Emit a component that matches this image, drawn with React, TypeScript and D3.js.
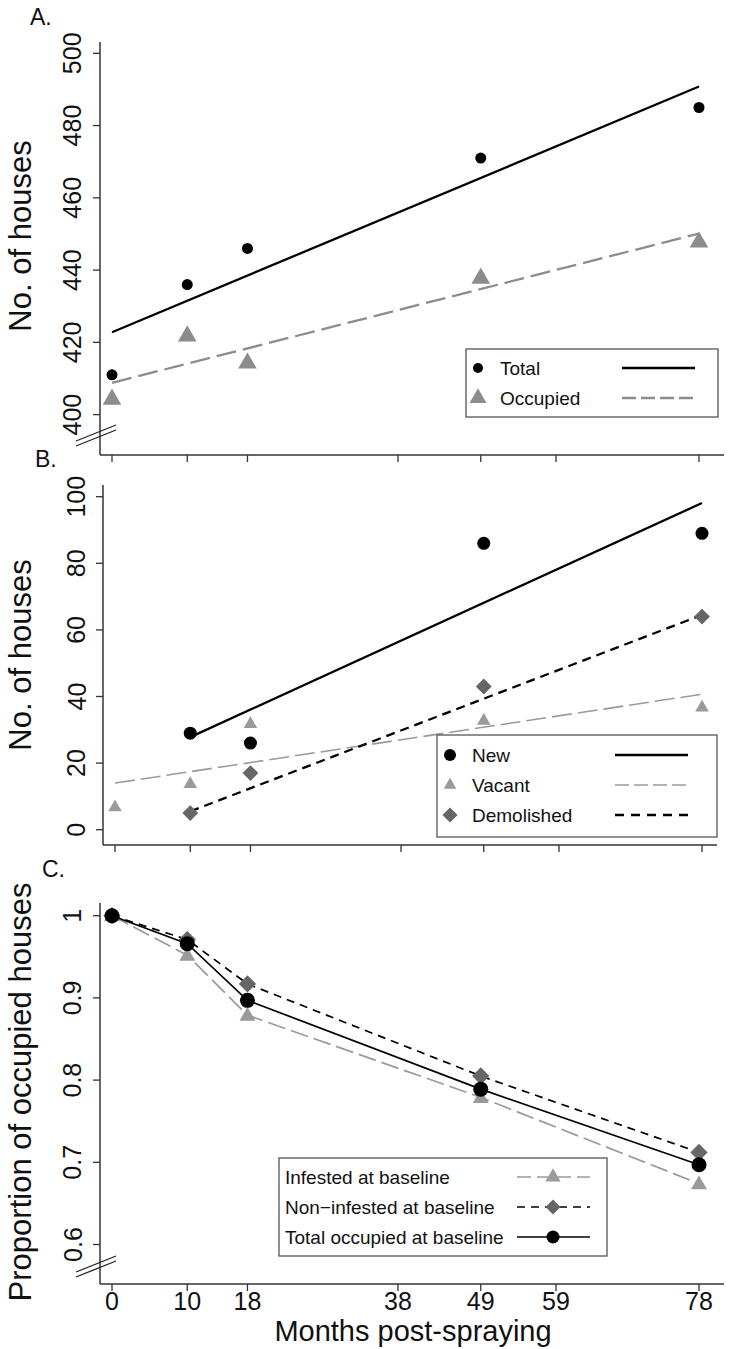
import React from 'react';
import * as d3 from 'd3';

// ---------- data ----------
const months = [0, 10, 18, 49, 78];
const tickMonths = [0, 10, 18, 38, 49, 59, 78];

// Panel A
const totalA = [411, 436, 446, 471, 485];
const occupiedA = [404.5, 422, 414.5, 438, 448];
const fitMonthsA = [0, 78];
const totalFitA = [422.8, 490.8];
const occupiedFitA = [408.8, 450.1];
const ticksA = [400, 420, 440, 460, 480, 500];

// Panel B
const monthsB = [10, 18, 49, 78];
const newB = [29, 26, 86, 89];
const vacantB = [7, 14, 32, 33, 37];
const demolishedB = [5, 17, 43, 64];
const newFitMonths = [10, 78];
const newFitB = [27.8, 98.1];
const vacantFitMonths = [0, 78];
const vacantFitB = [14, 40.7];
const demolishedFitMonths = [10, 78];
const demolishedFitB = [5.5, 64.5];
const ticksB = [0, 20, 40, 60, 80, 100];

// Panel C
const infestedC = [1, 0.952, 0.879, 0.779, 0.674];
const nonInfestedC = [1, 0.971, 0.917, 0.805, 0.712];
const totalC = [1, 0.966, 0.897, 0.789, 0.697];
const ticksC = [0.6, 0.7, 0.8, 0.9, 1];

const legendA = ['Total', 'Occupied'];
const legendB = ['New', 'Vacant', 'Demolished'];
const legendC = ['Infested at baseline', 'Non\u2212infested at baseline', 'Total occupied at baseline'];

// ---------- styles ----------
const FONT = '"Liberation Sans", Arial, Helvetica, sans-serif';
const AX = '#333';
const GREY_TRI = '#8c8c8c';
const GREY_LIGHT = '#9a9a9a';
const DIAMOND = '#666';

const tri = (size: number) => d3.symbol().type(d3.symbolTriangle).size(size)() as string;
const sq = (size: number) => d3.symbol().type(d3.symbolSquare).size(size)() as string;

function Diamond({ x, y, size, fill }: { x: number; y: number; size: number; fill: string }) {
  return <path d={sq(size)} transform={`translate(${x},${y}) rotate(45)`} fill={fill} />;
}
function Tri({ x, y, size, fill }: { x: number; y: number; size: number; fill: string }) {
  return <path d={tri(size)} transform={`translate(${x},${y + 1})`} fill={fill} />;
}

function YAxis({ x, y0, y1, scale, ticks, labelX, fontSize }: any) {
  const fmt = d3.format('~g');
  return (
    <g>
      <line x1={x} x2={x} y1={y0} y2={y1} stroke={AX} strokeWidth={1.5} />
      {ticks.map((t: number) => (
        <g key={t}>
          <line x1={x - 7} x2={x} y1={scale(t)} y2={scale(t)} stroke={AX} strokeWidth={1.3} />
          <text
            x={labelX}
            y={scale(t)}
            transform={`rotate(-90,${labelX},${scale(t)})`}
            textAnchor="middle"
            fontSize={fontSize}
            fontFamily={FONT}
            fill="#111"
          >
            {fmt(t)}
          </text>
        </g>
      ))}
    </g>
  );
}

function XAxis({ y, x0, x1, scale }: any) {
  return (
    <g>
      <line x1={x0} x2={x1} y1={y} y2={y} stroke={AX} strokeWidth={1.5} />
      {tickMonths.map((t) => (
        <line key={t} x1={scale(t)} x2={scale(t)} y1={y} y2={y + 7} stroke={AX} strokeWidth={1.3} />
      ))}
    </g>
  );
}

function Break({ x, y }: { x: number; y: number }) {
  return (
    <g stroke="#222" strokeWidth={1.3}>
      <line x1={x - 24} y1={y + 9} x2={x + 16} y2={y - 7} />
      <line x1={x - 24} y1={y + 4} x2={x + 16} y2={y - 12} />
    </g>
  );
}

function YTitle({ x, cy, text }: { x: number; cy: number; text: string }) {
  return (
    <text
      x={x}
      y={cy}
      transform={`rotate(-90,${x},${cy})`}
      textAnchor="middle"
      fontSize={31}
      fontFamily={FONT}
      fill="#111"
    >
      {text}
    </text>
  );
}

export default function App() {
  // scales
  const xA = d3.scaleLinear().domain([0, 78]).range([112, 699]);
  const yA = d3.scaleLinear().domain([400, 500]).range([414.6, 53.3]);
  const xB = d3.scaleLinear().domain([0, 78]).range([115, 702]);
  const yB = d3.scaleLinear().domain([0, 100]).range([829.7, 496.7]);
  const xC = d3.scaleLinear().domain([0, 78]).range([112, 699]);
  const yC = d3.scaleLinear().domain([0.6, 1]).range([1244.5, 915.7]);

  const lineGen = (xs: d3.ScaleLinear<number, number>, ys: d3.ScaleLinear<number, number>, mx: number[], vals: number[]) =>
    d3
      .line<number>()
      .x((_, i) => xs(mx[i]))
      .y((d) => ys(d))(vals) as string;

  const fmtT = d3.format('d');

  return (
    <svg width={733} height={1349} style={{ display: 'block', position: 'absolute', left: 0, top: 0, background: '#fff' }}>
      <rect x={0} y={0} width={733} height={1349} fill="#fff" />

      {/* ================= Panel A ================= */}
      <text x={30} y={25} fontSize={23} fontFamily={FONT} fill="#111">A.</text>
      <YTitle x={31} cy={236} text="No. of houses" />
      <YAxis x={100} y0={42} y1={455} scale={yA} ticks={ticksA} labelX={81.5} fontSize={25} />
      <Break x={100} y={437} />
      <XAxis y={455} x0={100} x1={724} scale={xA} />

      <path d={lineGen(xA, yA, fitMonthsA, totalFitA)} fill="none" stroke="#000" strokeWidth={2.3} />
      <path d={lineGen(xA, yA, fitMonthsA, occupiedFitA)} fill="none" stroke={GREY_TRI} strokeWidth={2.3} strokeDasharray="20,7" />
      {months.map((m, i) => (
        <circle key={'ta' + m} cx={xA(m)} cy={yA(totalA[i])} r={5.5} fill="#000" />
      ))}
      {months.map((m, i) => (
        <Tri key={'oa' + m} x={xA(m)} y={yA(occupiedA[i])} size={150} fill={GREY_TRI} />
      ))}

      <rect x={466} y={349} width={252} height={68} fill="#fff" stroke="#555" strokeWidth={1.3} />
      <circle cx={478} cy={368} r={5} fill="#000" />
      <text x={500} y={375} fontSize={19} fontFamily={FONT} fill="#111">{legendA[0]}</text>
      <line x1={622} x2={695} y1={368} y2={368} stroke="#000" strokeWidth={2.3} />
      <Tri x={478} y={397} size={125} fill={GREY_TRI} />
      <text x={500} y={405} fontSize={19} fontFamily={FONT} fill="#111">{legendA[1]}</text>
      <line x1={622} x2={695} y1={398} y2={398} stroke={GREY_TRI} strokeWidth={2.3} strokeDasharray="14,5" />

      {/* ================= Panel B ================= */}
      <text x={35} y={467} fontSize={23} fontFamily={FONT} fill="#111">B.</text>
      <YTitle x={31} cy={655} text="No. of houses" />
      <YAxis x={103} y0={485} y1={845} scale={yB} ticks={ticksB} labelX={85.5} fontSize={25} />
      <XAxis y={845} x0={103} x1={717} scale={xB} />

      <path d={lineGen(xB, yB, newFitMonths, newFitB)} fill="none" stroke="#000" strokeWidth={2.3} />
      <path d={lineGen(xB, yB, vacantFitMonths, vacantFitB)} fill="none" stroke={GREY_LIGHT} strokeWidth={1.6} strokeDasharray="20,6" />
      <path d={lineGen(xB, yB, demolishedFitMonths, demolishedFitB)} fill="none" stroke="#000" strokeWidth={2.3} strokeDasharray="9,6" />
      {monthsB.map((m, i) => (
        <circle key={'nb' + m} cx={xB(m)} cy={yB(newB[i])} r={6.5} fill="#000" />
      ))}
      {months.map((m, i) => (
        <Tri key={'vb' + m} x={xB(m)} y={yB(vacantB[i])} size={80} fill={GREY_LIGHT} />
      ))}
      {monthsB.map((m, i) => (
        <Diamond key={'db' + m} x={xB(m)} y={yB(demolishedB[i])} size={125} fill={DIAMOND} />
      ))}

      <rect x={437} y={735} width={280} height={102} fill="#fff" stroke="#555" strokeWidth={1.3} />
      <circle cx={450} cy={755} r={6} fill="#000" />
      <text x={472} y={762} fontSize={19} fontFamily={FONT} fill="#111">{legendB[0]}</text>
      <line x1={615} x2={688} y1={755} y2={755} stroke="#000" strokeWidth={2.3} />
      <Tri x={450} y={784} size={70} fill={GREY_LIGHT} />
      <text x={472} y={792} fontSize={19} fontFamily={FONT} fill="#111">{legendB[1]}</text>
      <line x1={615} x2={688} y1={785} y2={785} stroke={GREY_LIGHT} strokeWidth={1.6} strokeDasharray="14,5" />
      <Diamond x={450} y={815} size={115} fill={DIAMOND} />
      <text x={472} y={822} fontSize={19} fontFamily={FONT} fill="#111">{legendB[2]}</text>
      <line x1={615} x2={688} y1={815} y2={815} stroke="#000" strokeWidth={2.3} strokeDasharray="9,7" />

      {/* ================= Panel C ================= */}
      <text x={42} y={877} fontSize={23} fontFamily={FONT} fill="#111">C.</text>
      <YTitle x={31} cy={1092} text="Proportion of occupied houses" />
      <YAxis x={100} y0={903} y1={1284} scale={yC} ticks={ticksC} labelX={81.5} fontSize={25} />
      <Break x={100} y={1268} />
      <XAxis y={1284} x0={100} x1={724} scale={xC} />
      {tickMonths.map((t) => (
        <text key={'xl' + t} x={xC(t)} y={1310} textAnchor="middle" fontSize={25} fontFamily={FONT} fill="#111">
          {fmtT(t)}
        </text>
      ))}
      <text x={413} y={1341} textAnchor="middle" fontSize={29} fontFamily={FONT} fill="#111">
        Months post-spraying
      </text>

      <path d={lineGen(xC, yC, months, infestedC)} fill="none" stroke={GREY_LIGHT} strokeWidth={1.7} strokeDasharray="18,6" />
      <path d={lineGen(xC, yC, months, nonInfestedC)} fill="none" stroke="#000" strokeWidth={1.7} strokeDasharray="8,6" />
      <path d={lineGen(xC, yC, months, totalC)} fill="none" stroke="#000" strokeWidth={1.7} />
      {months.map((m, i) => (
        <Tri key={'ic' + m} x={xC(m)} y={yC(infestedC[i])} size={110} fill={GREY_LIGHT} />
      ))}
      {months.map((m, i) => (
        <Diamond key={'nc' + m} x={xC(m)} y={yC(nonInfestedC[i])} size={150} fill={DIAMOND} />
      ))}
      {months.map((m, i) => (
        <circle key={'tc' + m} cx={xC(m)} cy={yC(totalC[i])} r={7.5} fill="#000" />
      ))}

      <rect x={279} y={1158} width={328} height={98} fill="#fff" stroke="#555" strokeWidth={1.3} />
      <text x={285} y={1184} fontSize={19} fontFamily={FONT} fill="#111">{legendC[0]}</text>
      <line x1={517} x2={590} y1={1177} y2={1177} stroke={GREY_LIGHT} strokeWidth={1.7} strokeDasharray="14,6" />
      <Tri x={553} y={1176} size={100} fill={GREY_LIGHT} />
      <text x={285} y={1214} fontSize={19} fontFamily={FONT} fill="#111">{legendC[1]}</text>
      <line x1={517} x2={590} y1={1207} y2={1207} stroke="#000" strokeWidth={1.7} strokeDasharray="8,6" />
      <Diamond x={553} y={1207} size={110} fill={DIAMOND} />
      <text x={285} y={1244} fontSize={19} fontFamily={FONT} fill="#111">{legendC[2]}</text>
      <line x1={517} x2={590} y1={1237} y2={1237} stroke="#000" strokeWidth={1.7} />
      <circle cx={553} cy={1237} r={6.5} fill="#000" />
    </svg>
  );
}
